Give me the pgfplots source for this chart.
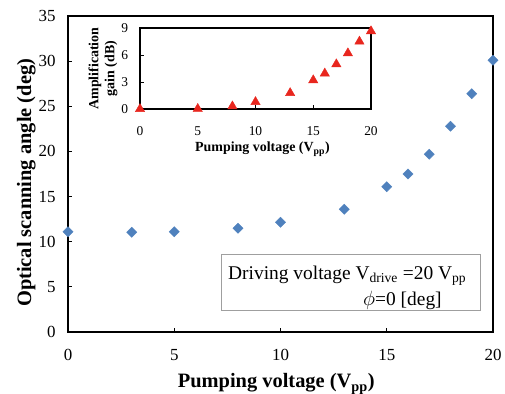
\documentclass[border=0pt]{standalone}
\usepackage{fontspec}
\setmainfont{Liberation Serif}
\usepackage{pgfplots}
\pgfplotsset{compat=1.18}
\definecolor{dblue}{RGB}{79,129,189}
\definecolor{tred}{RGB}{232,38,30}
\begin{document}
\begin{tikzpicture}
\useasboundingbox (-68bp,-62bp) rectangle (437bp,332bp);
\begin{axis}[
  at={(0,0)}, anchor=south west,
  scale only axis, width=425bp, height=316bp,
  xmin=0, xmax=20, ymin=0, ymax=35,
  xtick={0,5,10,15,20}, ytick={0,5,...,35},
  tick align=inside, xtick pos=lower, ytick pos=lower,
  major tick length=4bp,
  axis line style={line width=1.6bp},
  every tick/.style={black, line width=0.8bp},
  clip=false,
  /pgf/number format/assume math mode=true,
  ticklabel style={font=\fontsize{17}{20}\selectfont},
  xticklabel shift=14bp, yticklabel shift=9bp,
  xlabel={\textbf{Pumping voltage (V\textsubscript{pp})}},
  ylabel={\textbf{Optical scanning angle (deg)}},
  every axis x label/.style={at={(axis description cs:0.49,-0.177)}, anchor=base, font=\fontsize{20.5}{24}\selectfont},
  every axis y label/.style={at={(axis description cs:-0.087,0.472)}, rotate=90, anchor=base, font=\fontsize{20.5}{24}\selectfont},
]
\addplot[only marks, mark=square*, mark size=3.6bp, mark options={rotate=45, fill=dblue, draw=dblue}]
coordinates {(0,11.1)(3,11.05)(5,11.1)(8,11.5)(10,12.15)(13,13.6)(15,16.1)(16,17.5)(17,19.7)(18,22.8)(19,26.4)(20,30.1)};
\end{axis}
\draw[gray!75, line width=0.8bp] (153bp,22bp) rectangle (412.7bp,77.7bp);
\node[anchor=base west, inner sep=0, font=\fontsize{19.5}{23}\selectfont] at (160bp,52.7bp) {Driving voltage V\textsubscript{drive} =20 V\textsubscript{pp}};
\node[anchor=base west, inner sep=0, font=\fontsize{19.5}{23}\selectfont] at (295bp,27bp) {$\phi$=0 [deg]};
\begin{axis}[
  at={(72bp,223bp)}, anchor=south west,
  scale only axis, width=231bp, height=81bp,
  xmin=0, xmax=20, ymin=0, ymax=9,
  xtick={0,5,10,15,20}, ytick={0,3,6,9},
  tick align=inside, xtick pos=lower, ytick pos=lower,
  major tick length=4bp,
  axis line style={line width=1.3bp},
  every tick/.style={black, line width=0.7bp},
  clip=false,
  /pgf/number format/assume math mode=true,
  ticklabel style={font=\fontsize{13.5}{16}\selectfont},
  xticklabel shift=14bp, yticklabel shift=8.5bp,
  xlabel={\textbf{Pumping voltage (V\textsubscript{pp})}},
  ylabel={\textbf{Amplification}\\\textbf{gain (dB)}},
  every axis x label/.style={at={(axis description cs:0.53,-0.53)}, anchor=base, font=\fontsize{14}{17}\selectfont},
  every axis y label/.style={at={(axis description cs:-0.16,0.5)}, rotate=90, anchor=center, align=center, font=\fontsize{14}{16}\selectfont},
]
\addplot[only marks, mark=triangle*, mark size=5.4bp, mark options={fill=tred, draw=tred}]
coordinates {(0,0)(5,0.02)(8,0.3)(10,0.78)(13,1.78)(15,3.2)(16,3.95)(17,4.98)(18,6.2)(19,7.5)(20,8.65)};
\end{axis}
\end{tikzpicture}
\end{document}
